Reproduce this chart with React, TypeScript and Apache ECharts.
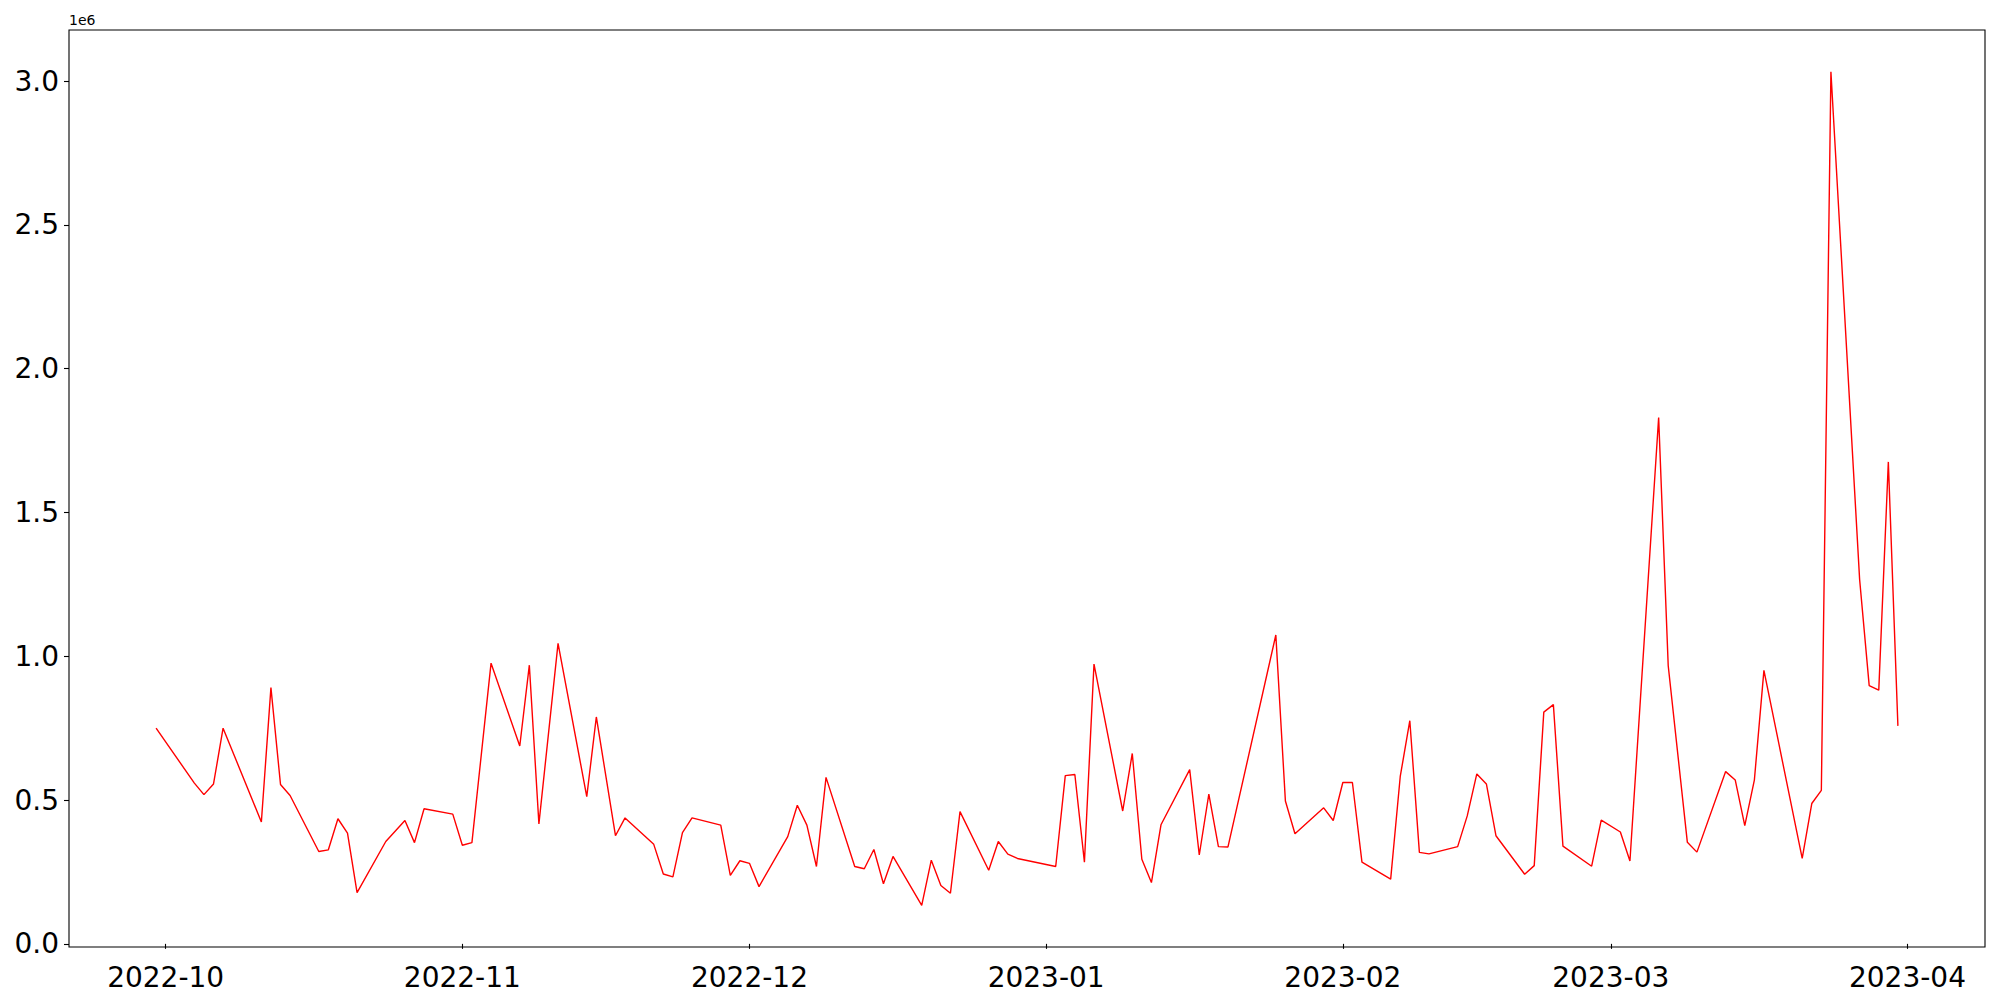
import React, { useEffect, useRef } from "react";
import * as echarts from "echarts";

const dates: string[] = [
  "2022-09-30", "2022-10-04", "2022-10-05", "2022-10-06", "2022-10-07", "2022-10-11", "2022-10-12", "2022-10-13",
  "2022-10-14", "2022-10-17", "2022-10-18", "2022-10-19", "2022-10-20", "2022-10-21", "2022-10-24", "2022-10-26",
  "2022-10-27", "2022-10-28", "2022-10-31", "2022-11-01", "2022-11-02", "2022-11-04", "2022-11-07", "2022-11-08",
  "2022-11-09", "2022-11-11", "2022-11-14", "2022-11-15", "2022-11-17", "2022-11-18", "2022-11-21", "2022-11-22",
  "2022-11-23", "2022-11-24", "2022-11-25", "2022-11-28", "2022-11-29", "2022-11-30", "2022-12-01", "2022-12-02",
  "2022-12-05", "2022-12-06", "2022-12-07", "2022-12-08", "2022-12-09", "2022-12-12", "2022-12-13", "2022-12-14",
  "2022-12-15", "2022-12-16", "2022-12-19", "2022-12-20", "2022-12-21", "2022-12-22", "2022-12-23", "2022-12-26",
  "2022-12-27", "2022-12-28", "2022-12-29", "2023-01-02", "2023-01-03", "2023-01-04", "2023-01-05", "2023-01-06",
  "2023-01-09", "2023-01-10", "2023-01-11", "2023-01-12", "2023-01-13", "2023-01-16", "2023-01-17", "2023-01-18",
  "2023-01-19", "2023-01-20", "2023-01-25", "2023-01-26", "2023-01-27", "2023-01-30", "2023-01-31", "2023-02-01",
  "2023-02-02", "2023-02-03", "2023-02-06", "2023-02-07", "2023-02-08", "2023-02-09", "2023-02-10", "2023-02-13",
  "2023-02-14", "2023-02-15", "2023-02-16", "2023-02-17", "2023-02-20", "2023-02-21", "2023-02-22", "2023-02-23",
  "2023-02-24", "2023-02-27", "2023-02-28", "2023-03-02", "2023-03-03", "2023-03-06", "2023-03-07", "2023-03-09",
  "2023-03-10", "2023-03-13", "2023-03-14", "2023-03-15", "2023-03-16", "2023-03-17", "2023-03-21", "2023-03-22",
  "2023-03-23", "2023-03-24", "2023-03-27", "2023-03-28", "2023-03-29", "2023-03-30", "2023-03-31",
];

const values: number[] = [
  750000, 559000, 519000, 556000, 750000, 424000, 891000, 554000,
  516000, 321000, 327000, 435000, 385000, 178000, 356000, 429000,
  352000, 470000, 451000, 343000, 352000, 976000, 688000, 969000,
  417000, 1045000, 512000, 789000, 376000, 438000, 346000, 243000,
  233000, 387000, 438000, 413000, 238000, 289000, 280000, 199000,
  373000, 482000, 413000, 269000, 579000, 269000, 261000, 328000,
  209000, 304000, 134000, 291000, 203000, 176000, 460000, 256000,
  356000, 312000, 297000, 269000, 585000, 589000, 284000, 973000,
  462000, 662000, 294000, 213000, 414000, 606000, 309000, 521000,
  338000, 337000, 1074000, 497000, 383000, 473000, 429000, 561000,
  561000, 284000, 225000, 582000, 776000, 318000, 313000, 338000,
  445000, 591000, 556000, 376000, 242000, 272000, 806000, 832000,
  340000, 270000, 430000, 389000, 288000, 1830000, 967000, 353000,
  319000, 599000, 570000, 411000, 569000, 951000, 297000, 488000,
  534000, 3033000, 1267000, 898000, 882000, 1676000, 758000,
];

const xTickLabels: string[] = ["2022-10", "2022-11", "2022-12", "2023-01", "2023-02", "2023-03", "2023-04"];
const yTickValues: number[] = [0, 500000, 1000000, 1500000, 2000000, 2500000, 3000000];
const offsetText = "1e6";

const FONT = "DejaVu Sans";

function toTs(s: string): number {
  const parts = s.split("-").map(Number);
  return new Date(parts[0], parts[1] - 1, parts[2] || 1).getTime();
}

export default function App() {
  const ref = useRef<HTMLDivElement>(null);

  useEffect(() => {
    if (!ref.current) return;
    const chart = echarts.init(ref.current, null, { renderer: "svg" });
    const data = dates.map((d, i) => [toTs(d), values[i]]);
    const xs = data.map((p) => p[0]);
    const xFirst = Math.min(...xs);
    const xLast = Math.max(...xs);
    const xSpan = xLast - xFirst;
    const yLo = Math.min(...values);
    const yHi = Math.max(...values);
    const ySpan = yHi - yLo;
    const xTicks = xTickLabels.map((s) => toTs(s + "-01"));

    chart.setOption({
      animation: false,
      grid: {
        left: 69,
        top: 30,
        right: 15,
        bottom: 53,
        show: true,
        borderColor: "#000",
        borderWidth: 1.1,
        backgroundColor: "transparent",
      },
      xAxis: {
        type: "value",
        min: xFirst - 0.05 * xSpan,
        max: xLast + 0.05 * xSpan,
        scale: true,
        axisLine: { show: false },
        splitLine: { show: false },
        axisTick: {
          show: true,
          length: 5,
          inside: false,
          customValues: xTicks,
          lineStyle: { color: "#000", width: 1.1 },
        },
        axisLabel: {
          customValues: xTicks,
          margin: 16,
          fontSize: 28,
          fontFamily: FONT,
          color: "#000",
          formatter: (v: number) => {
            const i = xTicks.indexOf(v);
            return i >= 0 ? xTickLabels[i] : "";
          },
        },
      },
      yAxis: {
        type: "value",
        min: yLo - 0.05 * ySpan,
        max: yHi + 0.05 * ySpan,
        scale: true,
        axisLine: { show: false },
        splitLine: { show: false },
        axisTick: {
          show: true,
          length: 5,
          inside: false,
          customValues: yTickValues,
          lineStyle: { color: "#000", width: 1.1 },
        },
        axisLabel: {
          customValues: yTickValues,
          margin: 10,
          fontSize: 28,
          fontFamily: FONT,
          color: "#000",
          formatter: (v: number) => (v / 1e6).toFixed(1),
        },
      },
      graphic: [
        {
          type: "text",
          left: 69,
          top: 13,
          style: {
            text: offsetText,
            fontSize: 14,
            fontFamily: FONT,
            fill: "#000",
          },
        },
      ],
      series: [
        {
          type: "line",
          data,
          showSymbol: false,
          symbol: "none",
          lineStyle: { color: "#ff0000", width: 1.4 },
          itemStyle: { color: "#ff0000" },
        },
      ],
    });

    return () => {
      chart.dispose();
    };
  }, []);

  return (
    <div
      ref={ref}
      style={{ position: "fixed", left: 0, top: 0, width: 2000, height: 1000, background: "#fff" }}
    />
  );
}
